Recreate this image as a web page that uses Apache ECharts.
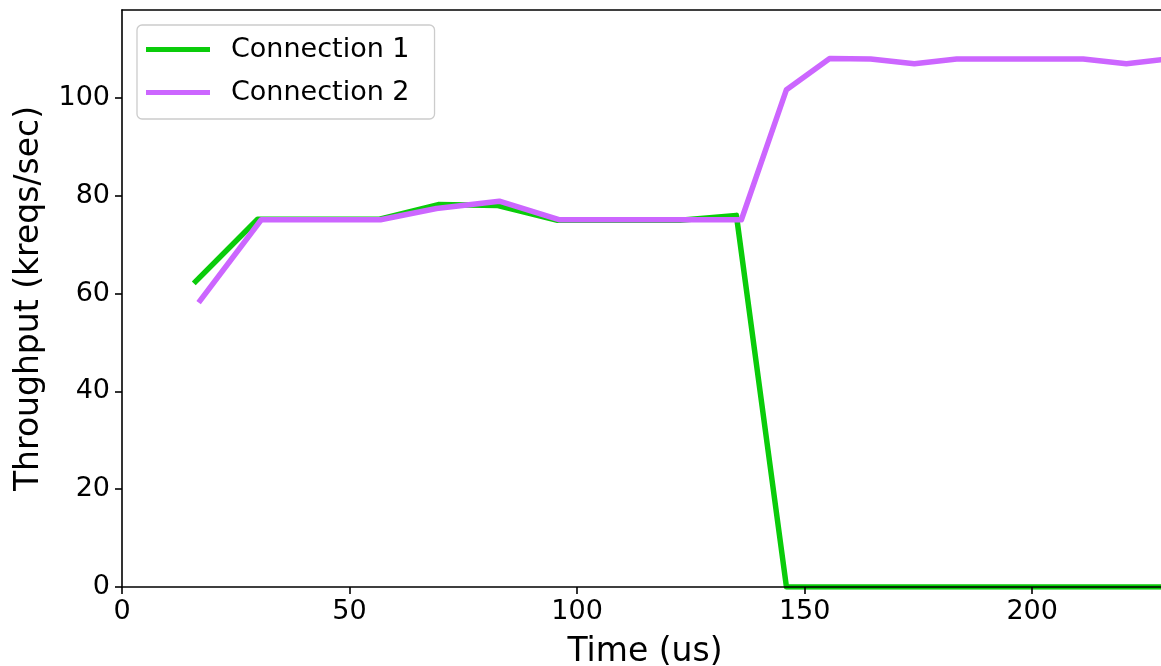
<!DOCTYPE html>
<html>
<head>
<meta charset="utf-8">
<title>Throughput per connection</title>
<script src="https://cdn.jsdelivr.net/npm/echarts@6/dist/echarts.min.js"></script>
<style>
  html, body { margin: 0; padding: 0; background: #ffffff; }
  #chart { width: 1161px; height: 666px; }
</style>
</head>
<body>
<div id="chart"></div>
<script>
// Sample times (us) and throughput (kreqs/sec) for each connection
const timesConn1 = [16.2, 29.8, 43.2, 56.6, 69.5, 82.6, 95.7, 109.2, 122.6, 135.0, 146.0, 155.5, 164.5, 174.0, 183.5, 192.5, 202.0, 211.2, 220.5, 230.0];
const throughputConn1 = [62.5, 75.2, 75.2, 75.2, 78.2, 78.0, 75.0, 75.0, 75.0, 76.0, 0, 0, 0, 0, 0, 0, 0, 0, 0, 0];

const timesConn2 = [17.2, 30.6, 43.5, 56.8, 69.1, 82.9, 96.2, 109.5, 122.8, 136.1, 146.0, 155.5, 164.5, 174.1, 183.4, 192.6, 201.9, 211.2, 220.7, 230.0];
const throughputConn2 = [58.6, 75.1, 75.1, 75.1, 77.4, 78.9, 75.1, 75.1, 75.1, 75.1, 101.7, 108.1, 108.0, 107.0, 108.0, 108.0, 108.0, 108.0, 107.0, 108.0];

const seriesNames = ['Connection 1', 'Connection 2'];
const seriesColors = ['#0acc0a', '#cc66ff'];

const xTicks = [0, 50, 100, 150, 200];
const yTicks = [0, 20, 40, 60, 80, 100];

const FONT = 'DejaVu Sans';

function pairs(xs, ys) {
  return xs.map((x, i) => [x, ys[i]]);
}

const chart = echarts.init(document.getElementById('chart'), null, { renderer: 'canvas' });

const axisLine = { show: true, lineStyle: { color: '#000000', width: 1.6 } };

chart.setOption({
  animation: false,
  backgroundColor: '#ffffff',
  grid: { left: 122, right: 0, top: 10, bottom: 79, containLabel: false, outerBoundsMode: 'none' },
  legend: {
    orient: 'vertical',
    left: 137,
    top: 25,
    data: seriesNames,
    icon: 'rect',
    itemWidth: 64,
    itemHeight: 5,
    itemGap: 16,
    padding: [11, 25, 13, 9],
    backgroundColor: 'rgba(255,255,255,0.8)',
    borderColor: '#cccccc',
    borderWidth: 1.3,
    borderRadius: 5,
    textStyle: { fontFamily: FONT, fontSize: 27, color: '#000000', padding: [0, 0, 0, 16], lineHeight: 27 }
  },
  xAxis: [
    {
      type: 'value',
      min: 0,
      max: 228.3,
      interval: 50,
      position: 'bottom',
      z: 5,
      name: 'Time (us)',
      nameLocation: 'middle',
      nameGap: 49,
      nameTextStyle: { fontFamily: FONT, fontSize: 33, color: '#000000', padding: [0, 0, 0, 7] },
      axisLine: axisLine,
      axisTick: { show: true, inside: false, length: 7, lineStyle: { color: '#000000', width: 1.6 }, customValues: xTicks },
      axisLabel: { show: true, margin: 11, fontFamily: FONT, fontSize: 27, color: '#000000', customValues: xTicks },
      splitLine: { show: false }
    },
    {
      type: 'value',
      min: 0,
      max: 228.3,
      position: 'top',
      z: 5,
      axisLine: axisLine,
      axisTick: { show: false },
      axisLabel: { show: false },
      splitLine: { show: false }
    }
  ],
  yAxis: {
    type: 'value',
    min: 0,
    max: 118,
    interval: 20,
    z: 5,
    name: 'Throughput (kreqs/sec)',
    nameLocation: 'middle',
    nameGap: 76,
    nameTextStyle: { fontFamily: FONT, fontSize: 33, color: '#000000' },
    axisLine: axisLine,
    axisTick: { show: true, inside: false, length: 7, lineStyle: { color: '#000000', width: 1.6 }, customValues: yTicks },
    axisLabel: { show: true, margin: 12, fontFamily: FONT, fontSize: 27, color: '#000000', customValues: yTicks },
    splitLine: { show: false }
  },
  series: [
    {
      name: seriesNames[0],
      type: 'line',
      xAxisIndex: 0,
      data: pairs(timesConn1, throughputConn1),
      showSymbol: false,
      clip: true,
      z: 2,
      color: seriesColors[0],
      lineStyle: { color: seriesColors[0], width: 5.5, cap: 'square', join: 'round' }
    },
    {
      name: seriesNames[1],
      type: 'line',
      xAxisIndex: 0,
      data: pairs(timesConn2, throughputConn2),
      showSymbol: false,
      clip: true,
      z: 3,
      color: seriesColors[1],
      lineStyle: { color: seriesColors[1], width: 5.5, cap: 'square', join: 'round' }
    }
  ]
});
</script>
</body>
</html>
